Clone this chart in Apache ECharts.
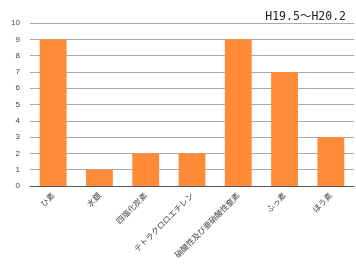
<!DOCTYPE html>
<html>
<head>
<meta charset="utf-8">
<style>
  html, body { margin: 0; padding: 0; background: #fff; }
  #main { width: 356px; height: 267px; }
</style>
<script src="https://cdn.jsdelivr.net/npm/echarts@6/dist/echarts.min.js"></script>
</head>
<body>
<div id="main"></div>
<script type="text/javascript">
    // 項目と件数
    var categories = ['ひ素', '水銀', '四塩化炭素', 'テトラクロロエチレン', '硝酸性及び亜硝酸性窒素', 'ふっ素', 'ほう素'];
    var counts = [9, 1, 2, 2, 9, 7, 3];
    var periodLabel = 'H19.5～H20.2';

    var myChart = echarts.init(document.getElementById('main'));

    var option = {
        animation: false,
        title: {
            text: periodLabel,
            right: 5,
            top: 6,
            textStyle: {
                fontFamily: 'DejaVu Sans Mono, Noto Sans CJK JP',
                fontSize: 11.5,
                fontWeight: 'normal',
                color: '#222'
            }
        },
        grid: {
            left: 30,
            right: 2,
            top: 23,
            bottom: 81
        },
        xAxis: {
            type: 'category',
            data: categories,
            axisTick: { show: false },
            axisLine: { lineStyle: { color: '#555' } },
            axisLabel: {
                rotate: 45,
                interval: 0,
                fontSize: 8,
                color: '#444',
                fontFamily: 'Noto Sans CJK JP',
                margin: 8
            }
        },
        yAxis: {
            type: 'value',
            min: 0,
            max: 10,
            interval: 1,
            axisLine: { show: false },
            axisTick: { show: false },
            axisLabel: {
                fontSize: 8,
                color: '#444',
                fontFamily: 'Liberation Sans',
                margin: 10
            },
            splitLine: { lineStyle: { color: '#aaa' } }
        },
        series: [{
            type: 'bar',
            data: counts,
            barWidth: '58%',
            itemStyle: { color: '#ff8a38' }
        }]
    };

    myChart.setOption(option);
</script>
</body>
</html>
